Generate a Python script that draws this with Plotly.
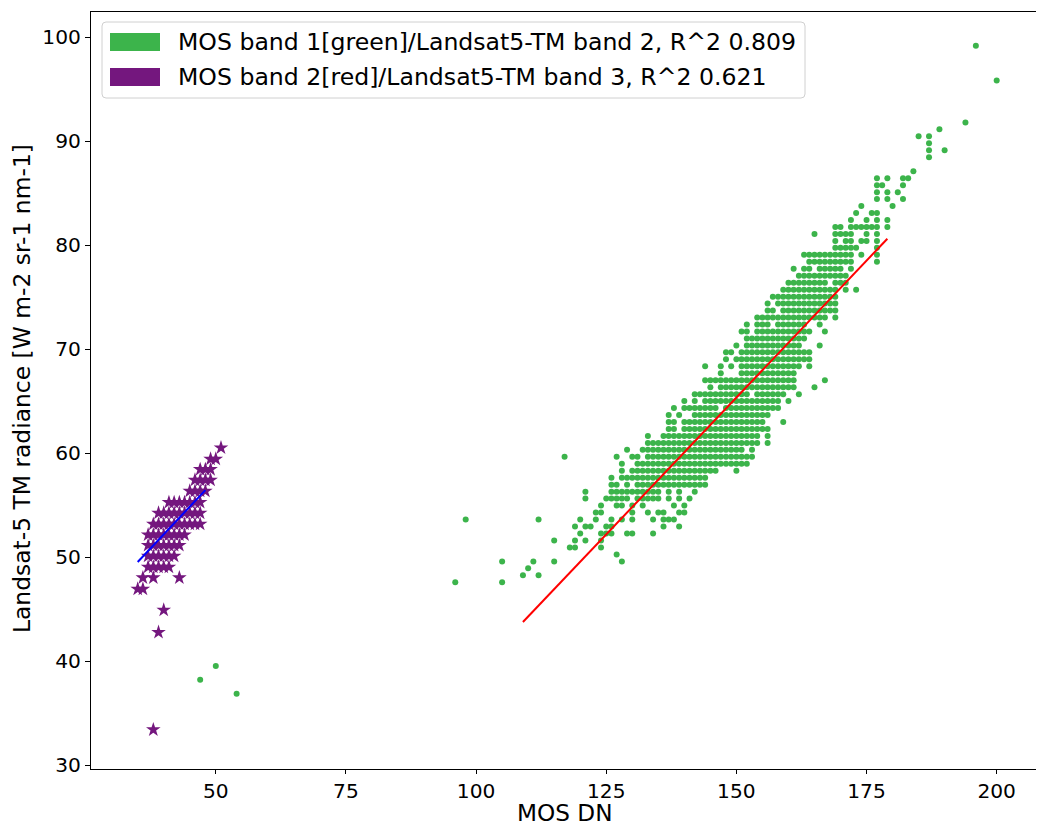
import plotly.graph_objects as go

# ---------------- data ----------------
# Green: MOS band 1 DN (x) vs Landsat-5 TM band 2 radiance (y); quantised rows
green_levels = [36.86, 38.20, 39.54, 47.58, 48.25, 48.92, 49.59, 50.26, 50.93, 51.60,
                52.27, 52.94, 53.62, 54.29, 54.96, 55.63, 56.30, 56.97, 57.64, 58.31,
                58.98, 59.65, 60.32, 60.99, 61.66, 62.33, 63.00, 63.67, 64.34, 65.01,
                65.68, 66.35, 67.02, 67.69, 68.36, 69.03, 69.70, 70.37, 71.04, 71.71,
                72.38, 73.05, 73.72, 74.39, 75.06, 75.73, 76.40, 77.07, 77.74, 78.41,
                79.08, 79.75, 80.42, 81.09, 81.76, 82.43, 83.10, 83.77, 84.44, 85.11,
                85.78, 86.45, 87.13, 88.47, 89.14, 89.81, 90.48, 91.15, 91.82, 95.84,
                99.19]
# runs of MOS DN values (inclusive) present on each row
green_runs = [
    [(54, 54)],
    [(47, 47)],
    [(50, 50)],
    [(96, 96), (105, 105)],
    [(109, 109), (112, 112)],
    [(110, 110)],
    [(105, 105), (111, 111), (115, 115), (128, 128)],
    [(127, 127)],
    [(118, 119), (124, 124)],
    [(115, 115), (119, 119), (121, 121), (124, 124)],
    [(120, 120), (124, 126), (129, 130), (134, 134)],
    [(119, 119), (121, 122), (125, 126), (136, 136), (139, 139)],
    [(98, 98), (112, 112), (120, 120), (123, 123), (126, 126), (128, 128), (130, 130), (134, 134), (136, 138)],
    [(123, 124), (130, 130), (133, 133), (135, 136), (139, 140)],
    [(124, 124), (127, 128), (130, 130), (132, 132), (138, 138), (140, 140)],
    [(121, 121), (125, 129), (131, 135), (137, 137), (139, 139), (141, 141)],
    [(121, 121), (126, 135), (137, 137), (139, 139), (142, 142)],
    [(126, 127), (129, 129), (131, 144)],
    [(126, 126), (128, 144)],
    [(128, 128), (130, 146), (150, 150)],
    [(128, 128), (131, 152)],
    [(117, 117), (127, 127), (130, 131), (133, 153)],
    [(129, 129), (132, 151), (153, 153)],
    [(133, 154), (156, 156)],
    [(133, 133), (136, 154), (156, 156)],
    [(137, 138), (140, 156)],
    [(137, 138), (140, 155), (159, 159)],
    [(137, 137), (139, 139), (142, 156)],
    [(138, 138), (140, 146), (148, 158)],
    [(140, 140), (142, 142), (144, 158), (160, 160)],
    [(142, 152), (154, 159), (162, 162)],
    [(145, 145), (147, 161), (165, 165)],
    [(144, 161), (167, 167)],
    [(147, 147), (151, 161)],
    [(144, 144), (147, 147), (149, 149), (151, 162), (164, 164)],
    [(148, 148), (150, 164)],
    [(148, 149), (151, 164)],
    [(150, 150), (152, 162), (166, 166)],
    [(152, 163)],
    [(151, 152), (154, 164), (167, 167)],
    [(152, 152), (154, 156), (158, 163), (166, 166)],
    [(154, 167), (169, 169)],
    [(156, 157), (159, 169)],
    [(156, 156), (158, 169)],
    [(157, 169)],
    [(159, 169), (171, 171), (173, 173)],
    [(160, 167), (169, 171)],
    [(162, 171)],
    [(161, 161), (163, 164), (166, 170), (172, 172)],
    [(164, 172), (177, 177)],
    [(163, 172), (174, 174), (177, 177)],
    [(169, 173), (177, 177)],
    [(169, 169), (171, 172), (174, 175), (177, 177)],
    [(165, 165), (169, 172), (175, 175), (177, 177)],
    [(169, 170), (172, 177), (179, 179)],
    [(172, 172), (175, 175), (177, 177), (179, 179)],
    [(173, 173), (176, 177)],
    [(174, 174), (180, 180)],
    [(177, 177), (179, 179), (182, 182)],
    [(177, 177), (179, 179), (181, 181)],
    [(177, 178), (182, 182)],
    [(177, 177), (179, 179), (182, 183)],
    [(184, 184)],
    [(187, 187)],
    [(187, 187), (190, 190)],
    [(187, 187)],
    [(185, 185), (187, 187)],
    [(189, 189)],
    [(194, 194)],
    [(200, 200)],
    [(196, 196)],
]

# Purple: MOS band 2 DN (x) vs Landsat-5 TM band 3 radiance (y)
purple_levels = [33.40, 42.77, 44.91, 46.93, 48.02, 49.05, 50.10, 51.13, 52.15,
                 53.18, 54.24, 55.27, 56.36, 57.42, 58.44, 59.44, 60.52]
purple_runs = [
    [(38, 38)],
    [(39, 39)],
    [(40, 40)],
    [(35, 36)],
    [(36, 36), (38, 38), (43, 43)],
    [(37, 41)],
    [(37, 42)],
    [(37, 43)],
    [(37, 44)],
    [(38, 47)],
    [(39, 47)],
    [(41, 47)],
    [(45, 48)],
    [(46, 49)],
    [(47, 49)],
    [(49, 50)],
    [(51, 51)],
]

# regression lines (end points)
red_fit_x = [109, 179]
red_fit_y = [43.76, 80.63]
blue_fit_x = [35, 48]
blue_fit_y = [49.53, 56.45]

legend_labels = ["MOS band 1[green]/Landsat5-TM band 2, R^2 0.809",
                 "MOS band 2[red]/Landsat5-TM band 3, R^2 0.621"]

x_ticks = [50, 75, 100, 125, 150, 175, 200]
y_ticks = [30, 40, 50, 60, 70, 80, 90, 100]

GREEN = "#3cb44b"
PURPLE = "#74177e"


def expand(levels, runs):
    xs, ys = [], []
    for y, rr in zip(levels, runs):
        for a, b in rr:
            for x in range(a, b + 1):
                xs.append(x)
                ys.append(y)
    return xs, ys


gx, gy = expand(green_levels, green_runs)
px_, py_ = expand(purple_levels, purple_runs)

# ---------------- layout geometry ----------------
W, H = 1037, 825
L, R, T, B = 91, 1, 12, 56
PW, PH = W - L - R, H - T - B


def xp(px):
    return (px - L) / PW


def yp(py):
    return 1 - (py - T) / PH


FONT = "DejaVu Sans"

fig = go.Figure()
fig.add_trace(go.Scatter(x=gx, y=gy, mode="markers",
                         marker=dict(color=GREEN, size=6, line=dict(width=0)),
                         showlegend=False, hoverinfo="skip"))
fig.add_trace(go.Scatter(x=px_, y=py_, mode="markers",
                         marker=dict(color=PURPLE, size=11, symbol="star", line=dict(width=0)),
                         showlegend=False, hoverinfo="skip"))
fig.add_trace(go.Scatter(x=red_fit_x, y=red_fit_y, mode="lines",
                         line=dict(color="#ff0000", width=2), showlegend=False, hoverinfo="skip"))
fig.add_trace(go.Scatter(x=blue_fit_x, y=blue_fit_y, mode="lines",
                         line=dict(color="#0000ff", width=2), showlegend=False, hoverinfo="skip"))

# legend box (matplotlib style, drawn manually)
lx0, ly0, lx1, ly1, rad = 102, 22, 805, 98, 4
path = (f"M {xp(lx0+rad)},{yp(ly0)} L {xp(lx1-rad)},{yp(ly0)} "
        f"Q {xp(lx1)},{yp(ly0)} {xp(lx1)},{yp(ly0+rad)} "
        f"L {xp(lx1)},{yp(ly1-rad)} Q {xp(lx1)},{yp(ly1)} {xp(lx1-rad)},{yp(ly1)} "
        f"L {xp(lx0+rad)},{yp(ly1)} Q {xp(lx0)},{yp(ly1)} {xp(lx0)},{yp(ly1-rad)} "
        f"L {xp(lx0)},{yp(ly0+rad)} Q {xp(lx0)},{yp(ly0)} {xp(lx0+rad)},{yp(ly0)} Z")
shapes = [dict(type="path", xref="paper", yref="paper", path=path,
               line=dict(color="#d0d0d0", width=1), fillcolor="rgba(255,255,255,0.85)",
               layer="above")]
annotations = []
for i, (lab, col) in enumerate(zip(legend_labels, [GREEN, PURPLE])):
    cy = 42 + i * 35
    shapes.append(dict(type="rect", xref="paper", yref="paper",
                       x0=xp(110), x1=xp(160), y0=yp(cy - 9), y1=yp(cy + 9),
                       line=dict(width=0), fillcolor=col, layer="above"))
    annotations.append(dict(x=xp(176), y=yp(cy), xref="paper", yref="paper",
                            text=lab, showarrow=False, xanchor="left", yanchor="middle",
                            font=dict(family=FONT, size=23.6, color="black")))

annotations.append(dict(x=xp(22), y=yp(389), xref="paper", yref="paper",
                        text="Landsat-5 TM radiance [W m-2 sr-1 nm-1]", textangle=-90,
                        showarrow=False, xanchor="center", yanchor="middle",
                        font=dict(family=FONT, size=23.4, color="black")))
annotations.append(dict(x=xp(565), y=yp(812.5), xref="paper", yref="paper",
                        text="MOS DN", showarrow=False, xanchor="center", yanchor="middle",
                        font=dict(family=FONT, size=23.2, color="black")))

fig.update_layout(
    width=W, height=H,
    margin=dict(l=L, r=R, t=T, b=B, pad=0),
    paper_bgcolor="white", plot_bgcolor="white",
    shapes=shapes, annotations=annotations,
    showlegend=False,
    xaxis=dict(range=[26.03, 26.03 + PW / 5.206], tickvals=x_ticks,
               showgrid=False, zeroline=False, showline=True, linecolor="black",
               linewidth=1.2, mirror=True, ticks="outside", ticklen=4, tickwidth=1.2,
               tickcolor="black", tickfont=dict(family=FONT, size=20.2, color="black")),
    yaxis=dict(range=[29.62, 102.44], tickvals=y_ticks,
               showgrid=False, zeroline=False, showline=True, linecolor="black",
               linewidth=1.2, mirror=False, ticks="outside", ticklen=5, tickwidth=1.2,
               tickcolor="black", tickfont=dict(family=FONT, size=20.2, color="black")),
)

fig.write_html("out.html", config={"displayModeBar": False},
               post_script="document.body.style.margin='0';document.body.style.overflow='hidden';")
